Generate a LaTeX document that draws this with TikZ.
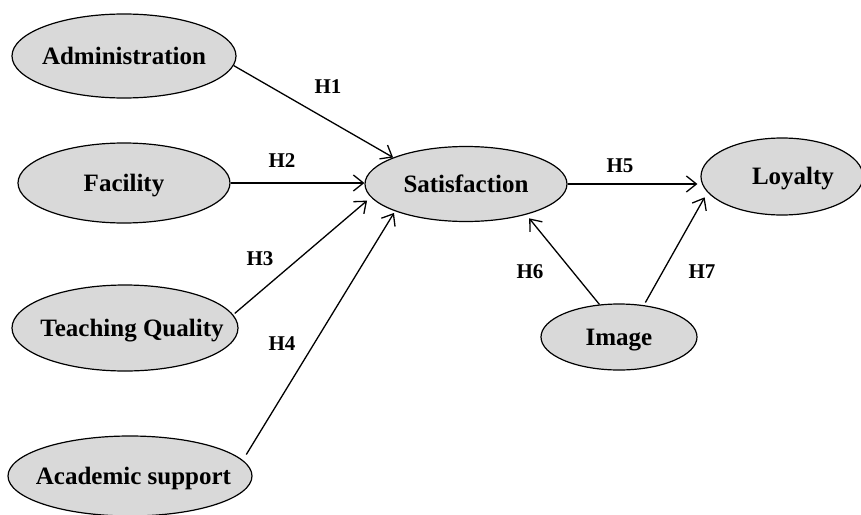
\documentclass[tikz,border=0pt]{standalone}
\usepackage{fontspec}
\setmainfont{Liberation Serif}
\usetikzlibrary{shapes.geometric,arrows.meta}
\definecolor{fillgray}{RGB}{217,217,217}
\begin{document}
\begin{tikzpicture}[x=1pt,y=-1pt,
  var/.style={ellipse,draw=black,line width=1.2pt,fill=fillgray,inner sep=0pt,
    text height=16.5pt,text depth=0pt,
    font=\fontsize{25}{28}\selectfont\bfseries},
  hyp/.style={font=\fontsize{21}{24}\selectfont\bfseries,inner sep=0pt,
    text height=14pt,text depth=0pt},
  link/.style={line width=1.3pt,-{Straight Barb[length=10pt,width=16pt,line width=1.3pt]}}]
\useasboundingbox (0,0) rectangle (861,514);
\fill[white] (0,0) rectangle (861,514);
% variables
\node[var,minimum width=224pt,minimum height=84pt] (adm) at (124,56) {\makebox[0pt]{Administration}};
\node[var,minimum width=212pt,minimum height=80pt] (fac) at (124,183) {\makebox[0pt]{Facility}};
\node[var,minimum width=226pt,minimum height=86pt] (tq) at (125,328) {\makebox[0pt]{\hspace*{14pt}Teaching Quality}};
\node[var,minimum width=244pt,minimum height=80pt] (as) at (130,476) {\makebox[0pt]{\hspace*{7pt}Academic support}};
\node[var,minimum width=202pt,minimum height=75pt] (sat) at (466,184) {\makebox[0pt]{Satisfaction}};
\node[var,minimum width=162pt,minimum height=77pt] (loy) at (782,176.5) {\makebox[0pt]{\hspace*{22pt}Loyalty}};
\node[var,minimum width=156pt,minimum height=66pt] (img) at (619,337) {\makebox[0pt]{Image}};
% connectors
\draw[link] (adm.-5) -- (sat.160);
\draw[link] (fac.east) -- (fac.east -| sat.west);
\draw[link,shorten <=2pt,shorten >=5pt] (tq.7) -- (sat.188);
\draw[link,shorten <=6.6pt,shorten >=2pt] (as.8) -- (sat.201);
\draw[link,shorten >=3pt] (sat.east) -- (sat.east -| loy.west);
\draw[link,shorten >=4.7pt] (img.121) -- (sat.-27);
\draw[link,shorten <=3pt,shorten >=5.7pt] (img.52) -- (loy.192);
% hypothesis labels
\node[hyp] (h1) at (328,86) {H1};
\node[hyp] (h2) at (282,160) {H2};
\node[hyp] (h3) at (260,258) {H3};
\node[hyp] (h4) at (282,343) {H4};
\node[hyp] (h5) at (620,165) {H5};
\node[hyp] (h6) at (530,271) {H6};
\node[hyp] (h7) at (702,271) {H7};
\end{tikzpicture}
\end{document}
